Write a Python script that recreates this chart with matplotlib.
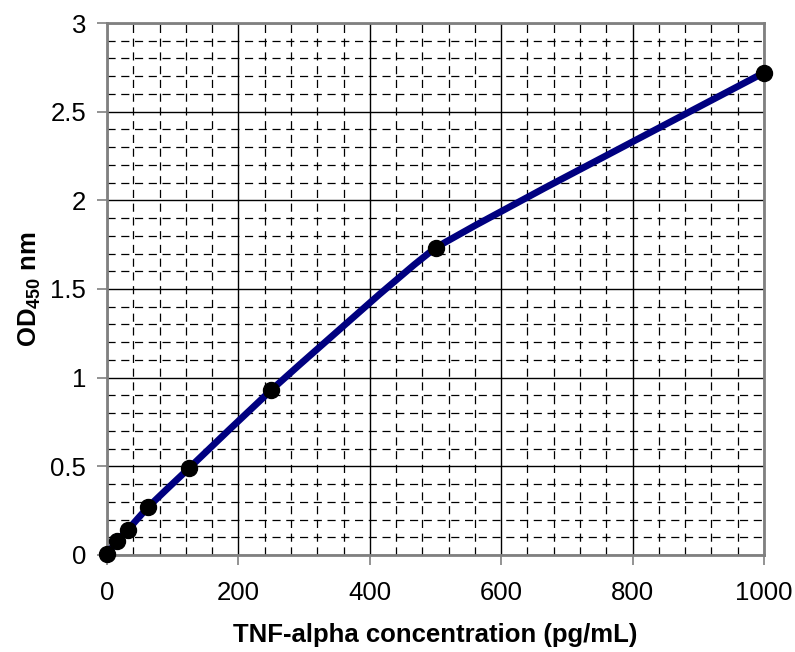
import numpy as np
import matplotlib
matplotlib.use('Agg')
import matplotlib.pyplot as plt
from matplotlib.path import Path
from matplotlib.patches import PathPatch
import matplotlib.ticker as ticker

conc = [0, 15.6, 31.25, 62.5, 125, 250, 500, 1000]
od = [0.005, 0.08, 0.14, 0.27, 0.49, 0.93, 1.73, 2.72]

plt.rcParams['font.family'] = ['Liberation Sans', 'DejaVu Sans']
plt.rcParams['mathtext.fontset'] = 'custom'
plt.rcParams['mathtext.bf'] = 'Liberation Sans:bold'
plt.rcParams['mathtext.rm'] = 'Liberation Sans'


def smooth_path(ax, xs, ys, k=0.12):
    # smoothed line like a spreadsheet chart, built in display space
    p = ax.transData.transform(np.column_stack([xs, ys]))
    n = len(p)
    verts = [p[0]]
    codes = [Path.MOVETO]

    def tangent(i):
        a = p[i - 1] if i > 0 else p[i]
        b = p[i + 1] if i + 1 < n else p[i]
        v = b - a
        return v / np.hypot(*v)

    for i in range(n - 1):
        d = np.hypot(*(p[i + 1] - p[i]))
        c1 = p[i] + tangent(i) * d * k
        c2 = p[i + 1] - tangent(i + 1) * d * k
        verts += [c1, c2, p[i + 1]]
        codes += [Path.CURVE4] * 3
    verts = ax.transData.inverted().transform(np.array(verts))
    return Path(verts, codes)


fig = plt.figure(figsize=(7.95, 6.52), dpi=100)
ax = fig.add_axes([0.1346, 0.1488, 0.961 - 0.1346, 0.9647 - 0.1488])

ax.set_xlim(0, 1000)
ax.set_ylim(0, 3)
ax.xaxis.set_major_locator(ticker.MultipleLocator(200))
ax.xaxis.set_minor_locator(ticker.MultipleLocator(40))
ax.yaxis.set_major_locator(ticker.MultipleLocator(0.5))
ax.yaxis.set_minor_locator(ticker.MultipleLocator(0.1))
ax.yaxis.set_major_formatter(ticker.FuncFormatter(lambda v, _: f"{v:g}"))

ax.grid(which='major', color='black', linewidth=1.0, linestyle='-')
ax.grid(which='minor', color='black', linewidth=0.9, linestyle=(0, (6.5, 4.5)))
ax.set_axisbelow(True)

ax.tick_params(which='major', direction='out', length=7, width=1.2,
               color='#808080', labelsize=18.5)
ax.tick_params(axis='x', pad=12)
ax.tick_params(axis='y', pad=8)
ax.tick_params(which='minor', length=0)
for s in ax.spines.values():
    s.set_color('#808080')
    s.set_linewidth(2)

ax.add_patch(PathPatch(smooth_path(ax, conc, od), facecolor='none',
                       edgecolor='#000080', linewidth=4.9, zorder=3,
                       clip_on=False, capstyle='round'))
ax.plot(conc, od, 'o', color='black', markersize=11.5, zorder=4, clip_on=False)

ax.set_xlabel('TNF-alpha concentration (pg/mL)', fontsize=18.5,
              fontweight='bold', labelpad=13)
ax.set_ylabel(r'OD$_{\mathbf{450}}$ nm', fontsize=18.5, fontweight='bold',
              labelpad=5)

fig.savefig('out.png', dpi=100)
